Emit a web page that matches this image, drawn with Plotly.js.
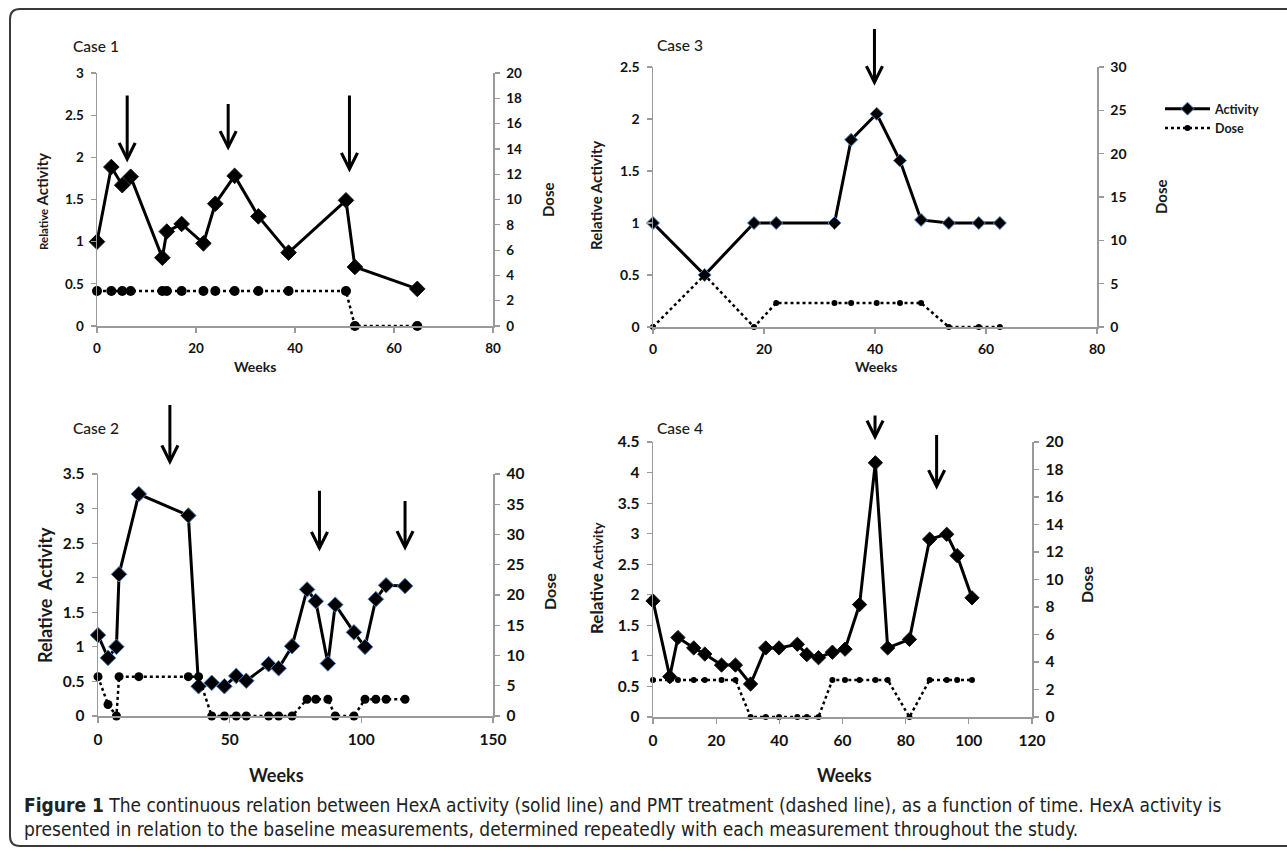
<!DOCTYPE html>
<html><head><meta charset="utf-8">
<script src="https://cdn.plot.ly/plotly-3.0.1.min.js"></script>
<style>html,body{margin:0;padding:0;background:#fff}#chart{width:1287px;height:851px}</style>
</head><body><div id="chart"></div><script>
// ---------------- DATA ----------------
const case1Weeks    = [0, 2.9, 5.1, 6.8, 13.2, 14.1, 17.1, 21.5, 23.9, 27.8, 32.6, 38.7, 50.3, 52.1, 64.7];
const case1Activity = [1.00, 1.885, 1.67, 1.77, 0.81, 1.12, 1.21, 0.98, 1.45, 1.78, 1.30, 0.87, 1.49, 0.70, 0.44];
const case1Dose     = [2.77, 2.77, 2.77, 2.77, 2.77, 2.77, 2.77, 2.77, 2.77, 2.77, 2.77, 2.77, 2.77, 0, 0];
const case1ArrowWeeks = [6.1, 26.5, 51.0];
const case1ArrowTop   = [2.75, 2.65, 2.75];
const case1ArrowTip   = [1.94, 2.08, 1.82];

const case3Weeks    = [0, 9.3, 18.2, 22.2, 32.7, 35.7, 40.3, 44.5, 48.3, 53.3, 58.7, 62.5];
const case3Activity = [1.00, 0.50, 1.00, 1.00, 1.00, 1.80, 2.05, 1.60, 1.03, 1.00, 1.00, 1.00];
const case3Dose     = [0, 6, 0, 2.77, 2.77, 2.77, 2.77, 2.77, 2.77, 0, 0, 0];
const case3ArrowWeeks = [39.9];
const case3ArrowTop   = [2.88];
const case3ArrowTip   = [2.32];

const case2Weeks    = [0, 3.8, 7.0, 8.0, 15.5, 34.3, 38.2, 43.2, 48.0, 52.5, 56.3, 64.8, 68.6, 73.7, 79.4, 82.7, 87.3, 90.1, 97.2, 101.4, 105.5, 109.4, 116.6];
const case2Activity = [1.17, 0.84, 1.00, 2.05, 3.21, 2.90, 0.43, 0.48, 0.43, 0.58, 0.51, 0.75, 0.69, 1.01, 1.83, 1.66, 0.76, 1.61, 1.21, 1.00, 1.69, 1.89, 1.88];
const case2Dose     = [6.5, 1.9, 0, 6.5, 6.5, 6.5, 6.5, 0, 0, 0, 0, 0, 0, 0, 2.76, 2.76, 2.76, 0, 0, 2.76, 2.76, 2.76, 2.76];
const case2ArrowWeeks = [27.3, 84.1, 116.6];
const case2ArrowTop   = [4.52, 3.28, 3.13];
const case2ArrowTip   = [3.63, 2.38, 2.39];

const case4Weeks    = [0, 5.3, 7.9, 12.9, 16.4, 21.7, 26.1, 30.9, 35.7, 39.9, 45.7, 48.7, 52.4, 56.8, 60.8, 65.4, 70.4, 74.3, 81.2, 87.6, 93.0, 96.3, 101.0];
const case4Activity = [1.90, 0.66, 1.30, 1.13, 1.03, 0.85, 0.85, 0.54, 1.13, 1.13, 1.19, 1.02, 0.97, 1.06, 1.11, 1.84, 4.16, 1.13, 1.27, 2.91, 2.99, 2.64, 1.95];
const case4Dose     = [2.7, 2.7, 2.7, 2.7, 2.7, 2.7, 2.7, 0, 0, 0, 0, 0, 0, 2.7, 2.7, 2.7, 2.7, 2.7, 0, 2.7, 2.7, 2.7, 2.7];
const case4ArrowWeeks = [70.3, 89.8];
const case4ArrowTop   = [4.96, 4.64];
const case4ArrowTip   = [4.53, 3.72];

// tick values (labels are drawn from these)
const case1WeekTicks = [0, 20, 40, 60, 80];
const case1ActTicks  = [0, 0.5, 1, 1.5, 2, 2.5, 3];
const case1DoseTicks = [0, 2, 4, 6, 8, 10, 12, 14, 16, 18, 20];
const case3WeekTicks = [0, 20, 40, 60, 80];
const case3ActTicks  = [0, 0.5, 1, 1.5, 2, 2.5];
const case3DoseTicks = [0, 5, 10, 15, 20, 25, 30];
const case2WeekTicks = [0, 50, 100, 150];
const case2ActTicks  = [0, 0.5, 1, 1.5, 2, 2.5, 3, 3.5];
const case2DoseTicks = [0, 5, 10, 15, 20, 25, 30, 35, 40];
const case4WeekTicks = [0, 20, 40, 60, 80, 100, 120];
const case4ActTicks  = [0, 0.5, 1, 1.5, 2, 2.5, 3, 3.5, 4, 4.5];
const case4DoseTicks = [0, 2, 4, 6, 8, 10, 12, 14, 16, 18, 20];

const caseLabels = ['Case 1', 'Case 3', 'Case 2', 'Case 4'];
const seriesNames = ['Activity', 'Dose'];
const captionBold = 'Figure 1';
const captionLine1 = ' The continuous relation between HexA activity (solid line) and PMT treatment (dashed line), as a function of time. HexA activity is';
const captionLine2 = 'presented in relation to the baseline measurements, determined repeatedly with each measurement throughout the study.';

// ---------------- LAYOUT HELPERS ----------------
const W = 1287, H = 851;
const px = p => p / W;
const py = p => 1 - p / H;
const FONT = 'Lato, "Open Sans", sans-serif';
const INK = '#1a1a1a';
const AXC = '#9a9a9a';

const panels = [
  {label: caseLabels[0], weeks: case1Weeks, act: case1Activity, dose: case1Dose,
   aw: case1ArrowWeeks, at: case1ArrowTop, ap: case1ArrowTip,
   xt: case1WeekTicks, yt: case1ActTicks, y2t: case1DoseTicks,
   box: {l: 97, r: 493, t: 73, b: 326}, xr: [0, 80], yr: [0, 3], y2r: [0, 20],
   tick: 13.5, diam: 12, dot: 10, edge: '#111', legend: false},
  {label: caseLabels[1], weeks: case3Weeks, act: case3Activity, dose: case3Dose,
   aw: case3ArrowWeeks, at: case3ArrowTop, ap: case3ArrowTip,
   xt: case3WeekTicks, yt: case3ActTicks, y2t: case3DoseTicks,
   box: {l: 653, r: 1097, t: 67, b: 327}, xr: [0, 80], yr: [0, 2.5], y2r: [0, 30],
   tick: 14, diam: 10, dot: 6, edge: '#4f81bd', legend: true},
  {label: caseLabels[2], weeks: case2Weeks, act: case2Activity, dose: case2Dose,
   aw: case2ArrowWeeks, at: case2ArrowTop, ap: case2ArrowTip,
   xt: case2WeekTicks, yt: case2ActTicks, y2t: case2DoseTicks,
   box: {l: 98, r: 493, t: 474, b: 716}, xr: [0, 150], yr: [0, 3.5], y2r: [0, 40],
   tick: 15.5, diam: 12, dot: 9, edge: '#4f81bd', legend: false},
  {label: caseLabels[3], weeks: case4Weeks, act: case4Activity, dose: case4Dose,
   aw: case4ArrowWeeks, at: case4ArrowTop, ap: case4ArrowTip,
   xt: case4WeekTicks, yt: case4ActTicks, y2t: case4DoseTicks,
   box: {l: 653, r: 1032, t: 442, b: 717}, xr: [0, 120], yr: [0, 4.5], y2r: [0, 20],
   tick: 15.5, diam: 11, dot: 6, edge: '#111', legend: false}
];

const bold = arr => arr.map(v => '<b>' + v + '</b>');

const traces = [];
const layout = {
  width: W, height: H, autosize: false,
  margin: {l: 0, r: 0, t: 0, b: 0},
  paper_bgcolor: '#fff', plot_bgcolor: 'rgba(0,0,0,0)',
  font: {family: FONT, color: INK},
  showlegend: true,
  legend: {x: px(1160), y: py(94), xanchor: 'left', yanchor: 'top',
           bgcolor: 'rgba(0,0,0,0)', itemwidth: 45,
           font: {family: FONT, size: 12.5, weight: 700, color: INK}, tracegroupgap: 0},
  annotations: [], shapes: []
};

panels.forEach((p, i) => {
  const xa = i === 0 ? 'x' : 'x' + (i + 1);
  const ya = 'y' + (2 * i + 1 === 1 ? '' : (2 * i + 1));
  const yb = 'y' + (2 * i + 2);
  const xKey = 'xaxis' + (i === 0 ? '' : (i + 1));
  const yKey = 'yaxis' + (2 * i + 1 === 1 ? '' : (2 * i + 1));
  const y2Key = 'yaxis' + (2 * i + 2);
  const xdom = [px(p.box.l), px(p.box.r)];
  const ydom = [py(p.box.b), py(p.box.t)];
  const tf = {family: FONT, size: p.tick, color: '#111'};
  const common = {showgrid: false, zeroline: false, showline: true, linecolor: AXC, linewidth: 1.5,
                  ticks: 'outside', ticklen: 5, tickwidth: 1.2, tickcolor: AXC, tickfont: tf, fixedrange: true,
                  tickmode: 'array', ticklabelstandoff: 4};
  layout[xKey] = Object.assign({}, common, {domain: xdom, range: p.xr, anchor: ya,
                  tickvals: p.xt, ticktext: bold(p.xt)});
  layout[yKey] = Object.assign({}, common, {domain: ydom, range: p.yr, anchor: xa,
                  tickvals: p.yt, ticktext: bold(p.yt)});
  layout[y2Key] = Object.assign({}, common, {domain: ydom, range: p.y2r, anchor: xa,
                  overlaying: ya, side: 'right', tickvals: p.y2t, ticktext: bold(p.y2t)});

  traces.push({
    type: 'scatter', mode: 'lines+markers', name: seriesNames[0], x: p.weeks, y: p.act,
    xaxis: xa, yaxis: ya, cliponaxis: false, showlegend: p.legend,
    line: {color: '#000', width: 3},
    marker: {symbol: 'diamond', size: p.diam, color: '#000', line: {color: p.edge, width: 1}}
  });
  traces.push({
    type: 'scatter', mode: 'lines+markers', name: seriesNames[1], x: p.weeks, y: p.dose,
    xaxis: xa, yaxis: yb, cliponaxis: false, showlegend: p.legend,
    line: {color: '#000', width: 2.5, dash: 'dot'},
    marker: {symbol: 'circle', size: p.dot, color: '#000'}
  });

  // treatment arrows (values on the activity scale, placed relative to the axis domain so
  // arrows reaching above the plotted range are still drawn)
  const toDom = v => (v - p.yr[0]) / (p.yr[1] - p.yr[0]);
  p.aw.forEach((w, k) => {
    layout.annotations.push({
      xref: xa, yref: ya + ' domain', axref: xa, ayref: ya + ' domain',
      x: w, y: toDom(p.ap[k]), ax: w, ay: toDom(p.at[k]), text: '',
      showarrow: true, arrowhead: 5, arrowsize: 1.05, arrowwidth: 3, arrowcolor: '#000', standoff: 0
    });
  });
});

// text annotations (titles)
function txt(x, y, text, size, opts) {
  return Object.assign({xref: 'paper', yref: 'paper', x: px(x), y: py(y), text: text, showarrow: false,
    xanchor: 'center', yanchor: 'middle', font: {family: FONT, size: size, color: INK, weight: 700}}, opts || {});
}
const A = layout.annotations;
const caseFont = {family: FONT, size: 15.5, color: INK, weight: 500};
A.push(txt(71, 46, caseLabels[0], 15, {xanchor: 'left', font: caseFont}));
A.push(txt(655, 45, caseLabels[1], 15, {xanchor: 'left', font: caseFont}));
A.push(txt(71, 428, caseLabels[2], 15, {xanchor: 'left', font: caseFont}));
A.push(txt(655, 428, caseLabels[3], 15, {xanchor: 'left', font: caseFont}));
// Weeks
A.push(txt(255, 366, 'Weeks', 14));
A.push(txt(876, 366, 'Weeks', 14));
A.push(txt(276, 775, 'Weeks', 18));
A.push(txt(844, 775, 'Weeks', 18));
// Relative Activity
A.push(txt(42, 202, '<span style="font-size:11.5px">Relative</span> <span style="font-size:15px">Activity</span>', 14, {textangle: -90}));
A.push(txt(596, 196, 'Relative Activity', 15, {textangle: -90}));
A.push(txt(45, 595, 'Relative  Activity', 18, {textangle: -90}));
A.push(txt(596, 578, '<span style="font-size:17px">Relative</span> <span style="font-size:13.5px">Activity</span>', 15, {textangle: -90}));
// Dose
A.push(txt(548, 200, 'Dose', 15, {textangle: -90}));
A.push(txt(1161, 197, 'Dose', 15, {textangle: -90}));
A.push(txt(549, 592, 'Dose', 16, {textangle: -90}));
A.push(txt(1086, 585, 'Dose', 16, {textangle: -90}));
// Caption
const capFont = {family: '"Liberation Sans Narrow", "DejaVu Sans Condensed", sans-serif', size: 19, color: '#222'};
A.push({xref: 'paper', yref: 'paper', x: px(22), y: py(805), xanchor: 'left', yanchor: 'middle', showarrow: false,
        text: '<b>' + captionBold + '</b>' + captionLine1, font: capFont});
A.push({xref: 'paper', yref: 'paper', x: px(22), y: py(829), xanchor: 'left', yanchor: 'middle', showarrow: false,
        text: captionLine2, font: capFont});

// Figure border (rounded)
const bl = px(10), bt = py(9), bb = py(846), rx = px(10), ry = 10 / H;
layout.shapes.push({
  type: 'path', xref: 'paper', yref: 'paper', layer: 'below',
  path: `M 1.01,${bt} H ${bl + rx} Q ${bl},${bt} ${bl},${bt - ry} V ${bb + ry} Q ${bl},${bb} ${bl + rx},${bb} H 1.01`,
  line: {color: '#3a3a3a', width: 2}
});

Plotly.newPlot('chart', traces, layout, {displayModeBar: false, staticPlot: true});
</script></body></html>
